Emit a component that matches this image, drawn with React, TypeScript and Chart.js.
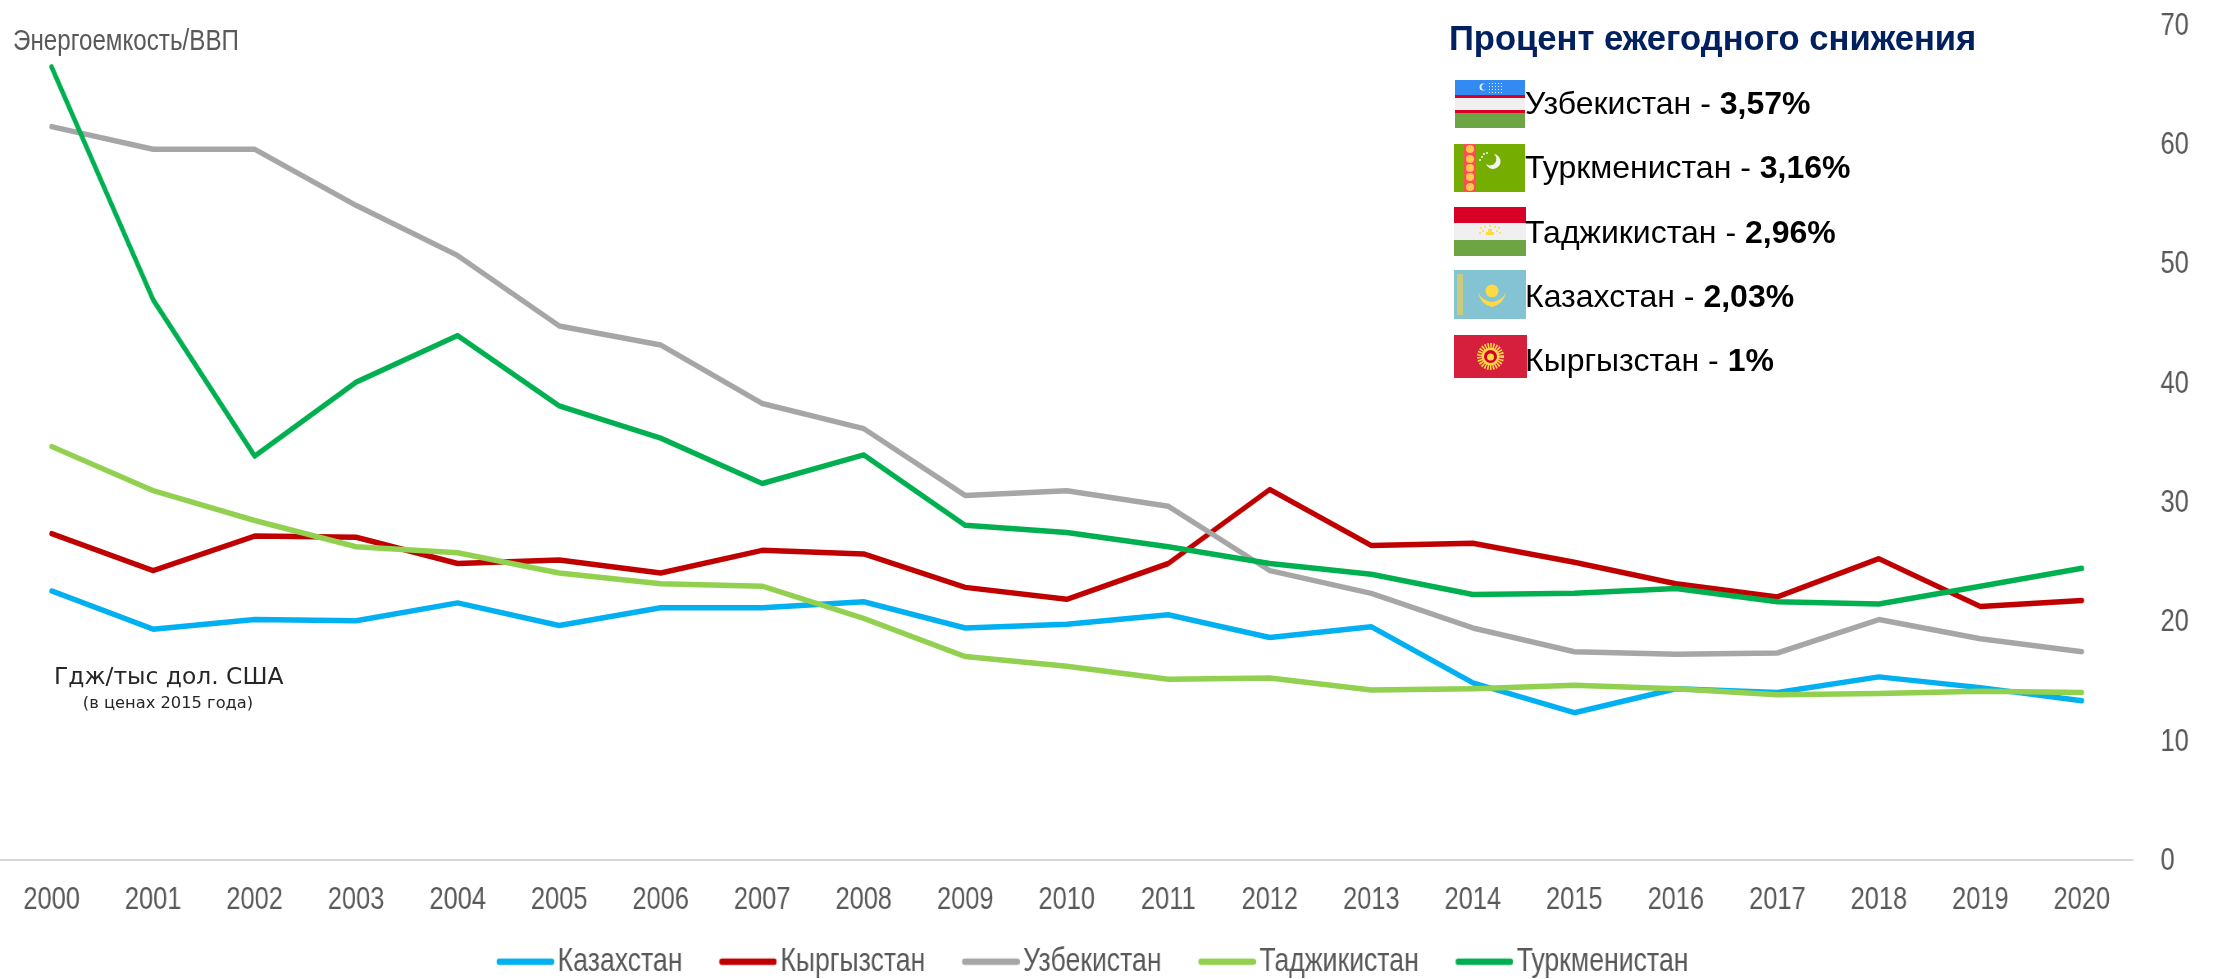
import React, { useEffect, useRef } from "react";
import { Chart, registerables } from "chart.js";

Chart.register(...registerables);

const years = ["2000","2001","2002","2003","2004","2005","2006","2007","2008","2009","2010","2011","2012","2013","2014","2015","2016","2017","2018","2019","2020"];
const kazakhstan = [22.5,19.3,20.1,20.0,21.5,19.6,21.1,21.1,21.6,19.4,19.7,20.5,18.6,19.5,14.8,12.3,14.3,14.0,15.3,14.4,13.3];
const kyrgyzstan = [27.3,24.2,27.1,27.0,24.8,25.1,24.0,25.9,25.6,22.8,21.8,24.8,31.0,26.3,26.5,24.9,23.1,22.0,25.2,21.2,21.7];
const uzbekistan = [61.4,59.5,59.5,54.8,50.6,44.7,43.1,38.2,36.1,30.5,30.9,29.6,24.2,22.3,19.4,17.4,17.2,17.3,20.1,18.5,17.4];
const tajikistan = [34.6,30.9,28.4,26.2,25.7,24.0,23.1,22.9,20.2,17.0,16.2,15.1,15.2,14.2,14.3,14.6,14.3,13.8,13.9,14.1,14.0];
const turkmenistan = [66.4,46.9,33.8,40.0,43.9,38.0,35.3,31.5,33.9,28.0,27.4,26.2,24.8,23.9,22.2,22.3,22.7,21.6,21.4,22.9,24.4];

const seriesNames = ["Казахстан","Кыргызстан","Узбекистан","Таджикистан","Туркменистан"];
const seriesColors = ["#00B0F0","#C00000","#A6A6A6","#92D050","#00B050"];
const seriesValues = [kazakhstan,kyrgyzstan,uzbekistan,tajikistan,turkmenistan];

const declineNames = ["Узбекистан","Туркменистан","Таджикистан","Казахстан","Кыргызстан"];
const declineValues = ["3,57%","3,16%","2,96%","2,03%","1%"];

const ARIAL = '"Liberation Sans", Arial, sans-serif';
// The reference's chart text is horizontally condensed; the canvas is drawn wider and displayed at full width.
const K = 0.82;
const PAGE_W = 2213;
const PAGE_H = 979;
const CANVAS_W = Math.round(PAGE_W / K);
const LEGEND_BOX = 79;
const LEGEND_IMG = LEGEND_BOX + 24;
const LEGEND_LINE = 70;
const LEGEND_SHIFT = 28;

function legendLine(color: string) {
  const c = document.createElement("canvas");
  c.width = LEGEND_IMG; c.height = 10;
  const g = c.getContext("2d")!;
  g.strokeStyle = color; g.lineWidth = 6.5; g.lineCap = "round";
  g.beginPath(); g.moveTo(LEGEND_IMG - LEGEND_LINE + 3, 5); g.lineTo(LEGEND_IMG - 3, 5); g.stroke();
  return c;
}

const shiftLegend = {
  id: "shiftLegend",
  afterLayout(chart: any) {
    if (chart.legend) { chart.legend.left -= LEGEND_SHIFT; chart.legend.right -= LEGEND_SHIFT; }
  },
};

const flagStyle: React.CSSProperties = { position: "absolute", display: "block" };

function FlagUz() {
  return <svg style={{ ...flagStyle, left: 1455, top: 80 }} width={70} height={48} viewBox="0 0 70 48">
    <rect width="70" height="15" fill="#338AF3" /><rect y="15" width="70" height="3" fill="#D80027" />
    <rect y="18" width="70" height="12" fill="#F0F0F0" /><rect y="30" width="70" height="3" fill="#D80027" />
    <rect y="33" width="70" height="15" fill="#6DA544" />
    <circle cx="28" cy="7" r="3.5" fill="#F0F0F0" /><circle cx="29.5" cy="7" r="3" fill="#338AF3" />
    <g fill="#F0F0F0">{[34,37,40,43,46].map(x => [3,6,9,12].map(y => <rect key={x + "-" + y} x={x} y={y} width="1" height="1" />))}</g>
  </svg>;
}
function FlagTm() {
  return <svg style={{ ...flagStyle, left: 1454, top: 144 }} width={71} height={48} viewBox="0 0 71 48">
    <rect width="71" height="48" fill="#75AD00" /><rect x="10" width="12" height="48" fill="#FF4B55" />
    <g fill="#FFC850">{[5,15,24,33,43].map(y => <circle key={y} cx="16" cy={y} r="4" />)}</g>
    <path d="M40 10 A7.5 7.5 0 1 1 32 20 A6 6 0 0 0 40 10Z" fill="#F5F5F5" />
    <g fill="#F5F5F5">{[[28,13],[30,10],[33,9],[26,16]].map(p => <circle key={p[0]} cx={p[0]} cy={p[1]} r="1" />)}</g>
  </svg>;
}
function FlagTj() {
  return <svg style={{ ...flagStyle, left: 1454, top: 207 }} width={72} height={49} viewBox="0 0 72 49">
    <rect width="72" height="16" fill="#D80027" /><rect y="16" width="72" height="17" fill="#F0F0F0" /><rect y="33" width="72" height="16" fill="#6DA544" />
    <rect x="32" y="25" width="8" height="3" fill="#FFDA44" /><rect x="34" y="22" width="4" height="3" fill="#FFDA44" />
    <g fill="#FFDA44">{[[27,21],[29,24],[31,20],[36,19],[41,20],[43,24],[45,21],[26,26],[46,26]].map(p => <circle key={p[0] + "-" + p[1]} cx={p[0]} cy={p[1]} r="1" />)}</g>
  </svg>;
}
function FlagKz() {
  return <svg style={{ ...flagStyle, left: 1454, top: 270 }} width={72} height={49} viewBox="0 0 72 49">
    <rect width="72" height="49" fill="#83C3D3" /><rect x="3" y="4" width="6" height="41" fill="#E3CE63" opacity="0.75" />
    <circle cx="38" cy="21" r="6.5" fill="#FFDA44" /><path d="M24 22 Q26 34 38 37 Q50 34 52 22 Q49 30 38 32 Q27 30 24 22Z" fill="#FFDA44" />
  </svg>;
}
function FlagKg() {
  return <svg style={{ ...flagStyle, left: 1454, top: 335 }} width={73} height={43} viewBox="0 0 73 43">
    <rect width="73" height="43" fill="#D61F3C" />
    <circle cx="36.5" cy="21.5" r="11" fill="none" stroke="#FFDA44" strokeWidth="5" strokeDasharray="1.5 1.2" />
    <circle cx="36.5" cy="21.5" r="9" fill="#FFDA44" />
    <circle cx="36.5" cy="21.5" r="6.5" fill="#D80027" /><circle cx="36.5" cy="22" r="3.5" fill="#FFDA44" />
  </svg>;
}
const flags = [FlagUz, FlagTm, FlagTj, FlagKz, FlagKg];
const rowCenters = [103, 167, 232, 296, 360];

export default function App() {
  const ref = useRef<HTMLCanvasElement>(null);
  useEffect(() => {
    const chart = new Chart(ref.current!, {
      type: "line",
      plugins: [shiftLegend],
      data: {
        labels: years,
        datasets: seriesNames.map((name, i) => ({
          label: name,
          data: seriesValues[i],
          borderColor: seriesColors[i],
          backgroundColor: seriesColors[i],
          borderWidth: 5.5,
          borderCapStyle: "round" as const,
          borderJoinStyle: "round" as const,
          pointRadius: 0,
          pointStyle: legendLine(seriesColors[i]),
          tension: 0,
          fill: false,
          order: seriesNames.length - i,
        })),
      },
      options: {
        responsive: false,
        animation: false,
        layout: { padding: { left: 1, right: 0, top: 24, bottom: -9 } },
        plugins: {
          title: { display: false },
          tooltip: { enabled: false },
          legend: {
            position: "bottom",
            labels: {
              usePointStyle: true,
              pointStyleWidth: LEGEND_BOX,
              boxHeight: 8,
              padding: 24,
              color: "#595959",
              font: { family: ARIAL, size: 32.5 },
              sort: (a: any, b: any) => a.datasetIndex - b.datasetIndex,
            },
          },
        },
        scales: {
          x: {
            offset: true,
            grid: { display: false, drawTicks: false },
            border: { display: true, color: "#D9D9D9", width: 2 },
            ticks: { color: "#595959", font: { family: ARIAL, size: 31 }, padding: 22, maxRotation: 0, autoSkip: false },
            afterFit: (s: any) => { s.height = 62; },
          },
          y: {
            position: "right",
            min: 0, max: 70,
            grid: { display: false, drawTicks: false },
            border: { display: false },
            ticks: { stepSize: 10, color: "#595959", font: { family: ARIAL, size: 31 }, padding: 34, labelOffset: 2 },
            afterFit: (s: any) => { s.width = 98; s.paddingTop = 0; s.paddingBottom = 0; },
          },
        },
      },
    });
    return () => chart.destroy();
  }, []);
  return (
    <div style={{ position: "fixed", left: 0, top: 0, width: PAGE_W, height: PAGE_H, background: "#fff", overflow: "hidden", fontFamily: ARIAL }}>
      <canvas ref={ref} width={CANVAS_W} height={PAGE_H} style={{ position: "absolute", left: 0, top: 0, width: PAGE_W, height: PAGE_H, display: "block" }} />
      <div style={{ position: "absolute", left: 13, top: 22, fontSize: 29, lineHeight: "36px", color: "#595959", whiteSpace: "nowrap", transform: "scaleX(0.834)", transformOrigin: "left center" }}>Энергоемкость/ВВП</div>
      <div style={{ position: "absolute", left: 54, width: 227, top: 661, textAlign: "center", fontFamily: '"DejaVu Sans", sans-serif', fontSize: 23.4, lineHeight: "30px", color: "#262626", whiteSpace: "nowrap" }}>Гдж/тыс дол. США</div>
      <div style={{ position: "absolute", left: 68, width: 200, top: 692, textAlign: "center", fontFamily: '"DejaVu Sans", sans-serif', fontSize: 16.3, lineHeight: "22px", color: "#262626", whiteSpace: "nowrap" }}>(в ценах 2015 года)</div>
      <div style={{ position: "absolute", left: 1449, top: 17, fontSize: 34.6, lineHeight: "42px", fontWeight: 700, color: "#002060", whiteSpace: "nowrap" }}>Процент ежегодного снижения</div>
      {declineNames.map((n, i) => {
        const F = flags[i];
        return <React.Fragment key={n}>
          <F />
          <div style={{ position: "absolute", left: 1525, top: rowCenters[i] - 20, fontSize: 32, lineHeight: "40px", color: "#000", whiteSpace: "nowrap" }}>{n} - <b>{declineValues[i]}</b></div>
        </React.Fragment>;
      })}
    </div>
  );
}
